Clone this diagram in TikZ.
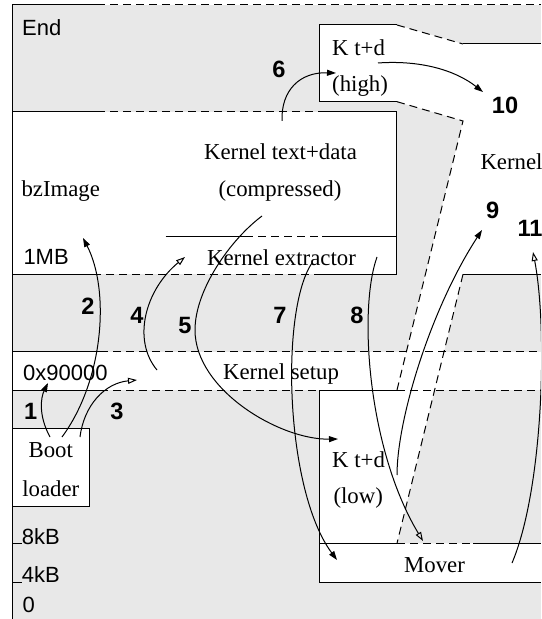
\documentclass[tikz,border=0pt]{standalone}
\usepackage{fontspec}
\setmainfont{Liberation Serif}
\setsansfont{Liberation Sans}
\usepackage{tikz}
\usetikzlibrary{arrows.meta}

\definecolor{memgray}{RGB}{232,232,232}

\begin{document}
\begin{tikzpicture}[x=0.5pt, y=-0.5pt, line width=0.5pt,
    txt/.style={font=\fontsize{11.4}{13}\selectfont, inner sep=0pt},
    addr/.style={font=\sffamily\fontsize{11}{13}\selectfont, inner sep=0pt, anchor=west},
    num/.style={font=\sffamily\bfseries\fontsize{11.8}{13}\selectfont, inner sep=0pt},
    memdash/.style={dash pattern=on 4pt off 2.5pt},
    arrow/.style={-{Triangle[length=4.5pt, width=3pt]}},
    openarrow/.style={-{Triangle[open, length=4.5pt, width=3pt]}}]

    \clip (0,0) rectangle (541,619);

    % Memory background
    \fill[memgray] (12.3,5) rectangle (541,619);

    % Used regions
    \fill[white] (319,25) -- (397,25) -- (463,44) -- (541,44) -- (541,274.3) -- (463,274.3)
        -- (397,543.3) -- (541,543.3) -- (541,582.3) -- (319,582.3) -- (319,390) -- (397,390)
        -- (463,121) -- (397,101.7) -- (319,101.7) -- cycle;
    \fill[white] (12.3,111.7) rectangle (396.7,274.3);
    \fill[white] (12.3,351.7) rectangle (541,390);
    \fill[white] (12.3,428.3) rectangle (89.3,506);

    % Outer edges
    \draw (12.3,5) -- (12.3,619);
    \draw (12.3,5) -- (97,5);
    \draw[memdash] (97,5) -- (541,5);

    % bzImage
    \draw (12.3,111.7) -- (97,111.7);
    \draw[memdash] (97,111.7) -- (320,111.7);
    \draw (320,111.7) -- (396.7,111.7) -- (396.7,274.3) -- (322,274.3);
    \draw[memdash] (322,274.3) -- (97,274.3);
    \draw (97,274.3) -- (12.3,274.3);
    \draw (165.7,236.7) -- (245,236.7);
    \draw[memdash] (245,236.7) -- (322,236.7);
    \draw (322,236.7) -- (396.7,236.7);

    % K t+d (high) and kernel
    \draw (397,25) -- (319,25) -- (319,101.7) -- (397,101.7);
    \draw[memdash] (397,25) -- (463,44);
    \draw (463,44) -- (541,44);
    \draw[memdash] (397,101.7) -- (463,121) -- (397,390);
    \draw (463,274.3) -- (541,274.3);
    \draw[memdash] (463,274.3) -- (397,543.3);

    % Kernel setup
    \draw (12.3,351.7) -- (100,351.7);
    \draw[memdash] (100,351.7) -- (541,351.7);
    \draw (12.3,390) -- (100,390);
    \draw[memdash] (100,390) -- (319.3,390);
    \draw (319.3,390) -- (397,390);
    \draw[memdash] (397,390) -- (541,390);

    % K t+d (low) and Mover
    \draw (319.3,390) -- (319.3,582.3) -- (541,582.3);
    \draw (319.3,543.3) -- (397,543.3);
    \draw[memdash] (397,543.3) -- (473,543.3);
    \draw (473,543.3) -- (541,543.3);

    % Boot loader
    \draw (12.3,428.3) rectangle (89.3,506);
    \draw (12.3,543.3) -- (22,543.3);
    \draw (12.3,582.3) -- (22,582.3);

    % Labels
    \node[addr] (endlbl) at (21.7,28) {End};
    \node[txt, anchor=west] (khigh) at (331.7,48) {K t+d};
    \node[txt, anchor=west] (khighb) at (331.7,86.5) {(high)};
    \node[txt] (ktext) at (280.5,152) {Kernel text+data};
    \node[txt] (kcomp) at (280,191) {(compressed)};
    \node[txt, anchor=west] (bzimg) at (21,190.7) {bzImage};
    \node[addr] (onemb) at (23,256.7) {1MB};
    \node[txt] (kextr) at (281.5,258) {Kernel extractor};
    \node[txt, anchor=west] (kernel) at (480,162) {Kernel};
    \node[addr] (setupaddr) at (22.7,373.3) {0x90000};
    \node[txt] (ksetup) at (281,374) {Kernel setup};
    \node[txt] (boot) at (50.8,450) {Boot};
    \node[txt] (loader) at (50.8,489) {loader};
    \node[txt, anchor=west] (klow) at (331.7,460) {K t+d};
    \node[txt, anchor=west] (klowb) at (333,498) {(low)};
    \node[txt] (mover) at (434.5,565) {Mover};
    \node[addr] (eightkb) at (21.4,537) {8kB};
    \node[addr] (fourkb) at (21.4,574.5) {4kB};
    \node[addr] (zero) at (22,605) {0};

    % Step numbers
    \node[num] (n1) at (30.7,411.7) {1};
    \node[num] (n2) at (88,306) {2};
    \node[num] (n3) at (117,411.7) {3};
    \node[num] (n4) at (137,315) {4};
    \node[num] (n5) at (185,325) {5};
    \node[num] (n6) at (279,69) {6};
    \node[num] (n7) at (280,315) {7};
    \node[num] (n8) at (357,315) {8};
    \node[num] (n9) at (492.7,210) {9};
    \node[num] (n10) at (505,105) {10};
    \node[num] (n11) at (530,228) {11};

    % Arrow ends
    \coordinate (s1) at (50,437);   \coordinate (e1) at (48,383);
    \coordinate (s2) at (62,437);   \coordinate (e2) at (83,238);
    \coordinate (s3) at (80,437);   \coordinate (e3) at (137,380);
    \coordinate (s4) at (157,370);  \coordinate (e4) at (185,257);
    \coordinate (s5) at (262,216);  \coordinate (e5) at (338,439);
    \coordinate (s6) at (282,121);  \coordinate (e6) at (336,73);
    \coordinate (s7) at (312,263);  \coordinate (e7) at (337,560);
    \coordinate (s8) at (377,257);  \coordinate (e8) at (423,541);
    \coordinate (s9) at (397,475);  \coordinate (e9) at (482,230);
    \coordinate (s10) at (378,63);  \coordinate (e10) at (483,92);
    \coordinate (s11) at (512,563); \coordinate (e11) at (533,252);

    % Steps
    \draw[arrow] (s1) .. controls +(-12,-22) and +(-7,14) .. (e1);
    \draw[arrow] (s2) .. controls +(42,-57) and +(27,52) .. (e2);
    \draw[openarrow] (s3) .. controls +(4,-32) and +(-32,3) .. (e3);
    \draw[openarrow] (s4) .. controls +(-25,-30) and +(-40,33) .. (e4);
    \draw[arrow] (s5) .. controls (230,240) and (195,290) .. (195,330)
        .. controls (195,390) and (280,440) .. (e5);
    \draw[arrow] (s6) .. controls +(-1,-31) and +(-36,-1) .. (e6);
    \draw[arrow] (s7) .. controls +(-32,47) and +(-52,-70) .. (e7);
    \draw[openarrow] (s8) .. controls +(-19,53) and +(-55,-91) .. (e8);
    \draw[arrow] (s9) .. controls +(0,-55) and +(-52,80) .. (e9);
    \draw[arrow] (s10) .. controls +(42,-3) and +(-28,-22) .. (e10);
    \draw[openarrow] (s11) .. controls +(31,-73) and +(15,78) .. (e11);
\end{tikzpicture}
\end{document}
